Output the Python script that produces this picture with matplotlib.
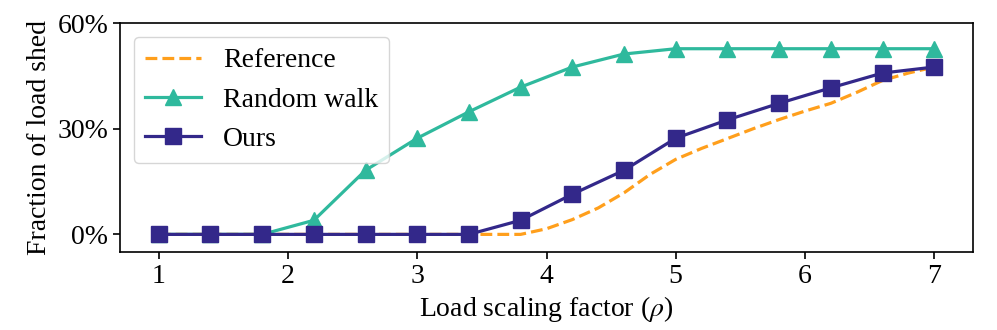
"""
fraction of load shed vs load scaling factor, three methods
"""

import numpy as np
import matplotlib
matplotlib.use('Agg')
import matplotlib.pyplot as plt
from matplotlib.ticker import PercentFormatter

# data (fractions of load shed)
rho = [1.0, 1.4, 1.8, 2.2, 2.6, 3.0, 3.4, 3.8, 4.2, 4.6, 5.0, 5.4, 5.8,
       6.2, 6.6, 7.0]
random_walk = [0.0, 0.0, 0.0, 0.040, 0.182, 0.273, 0.348, 0.418, 0.475,
               0.512, 0.527, 0.527, 0.527, 0.527, 0.527, 0.527]
ours = [0.0, 0.0, 0.0, 0.0, 0.0, 0.0, 0.0, 0.040, 0.114, 0.182, 0.273,
        0.325, 0.372, 0.416, 0.458, 0.475]

rho_ref = [1.0, 1.4, 1.8, 2.2, 2.6, 3.0, 3.4, 3.6, 3.8, 4.0, 4.2, 4.4, 4.6,
           4.8, 5.0, 5.2, 5.4, 5.6, 5.8, 6.0, 6.2, 6.4, 6.6, 6.8, 7.0]
reference = [0.0, 0.0, 0.0, 0.0, 0.0, 0.0, 0.0, 0.0, 0.0, 0.016, 0.042,
             0.075, 0.118, 0.170, 0.213, 0.244, 0.272, 0.300, 0.326,
             0.350, 0.372, 0.403, 0.437, 0.458, 0.475]

labels = ['Reference', 'Random walk', 'Ours']

# style
plt.rc('font', family='Liberation Serif')
plt.rc('mathtext', fontset='stix')
ftsize = 20

c_ref = '#ff9f1c'
c_rw = '#2fb99d'
c_ours = '#33288a'

fig, ax = plt.subplots(figsize=(9.97, 3.30), dpi=100)

ax.plot(rho_ref, reference, '--', color=c_ref, lw=2.3, label=labels[0])
ax.plot(rho, random_walk, '-^', color=c_rw, lw=2.3, ms=11,
        label=labels[1])
ax.plot(rho, ours, '-s', color=c_ours, lw=2.3, ms=11, label=labels[2])

ax.set_xlim(0.7, 7.3)
ax.set_ylim(-0.05, 0.60)
ax.set_xticks([1, 2, 3, 4, 5, 6, 7])
ax.set_yticks([0.0, 0.3, 0.6])
ax.yaxis.set_major_formatter(PercentFormatter(xmax=1, decimals=0))
ax.tick_params(labelsize=ftsize, width=1.2, length=5)
for s in ax.spines.values():
    s.set_linewidth(1.2)

ax.set_xlabel(r'Load scaling factor ($\rho$)', fontsize=ftsize)
ax.set_ylabel('Fraction of load shed', fontsize=ftsize)
ax.legend(loc='upper left', fontsize=ftsize, handlelength=2.0,
          borderaxespad=0.5)

plt.subplots_adjust(left=120 / 997, right=973 / 997,
                    top=1 - 23 / 330, bottom=1 - 252 / 330)

plt.savefig('out.png', dpi=100)
